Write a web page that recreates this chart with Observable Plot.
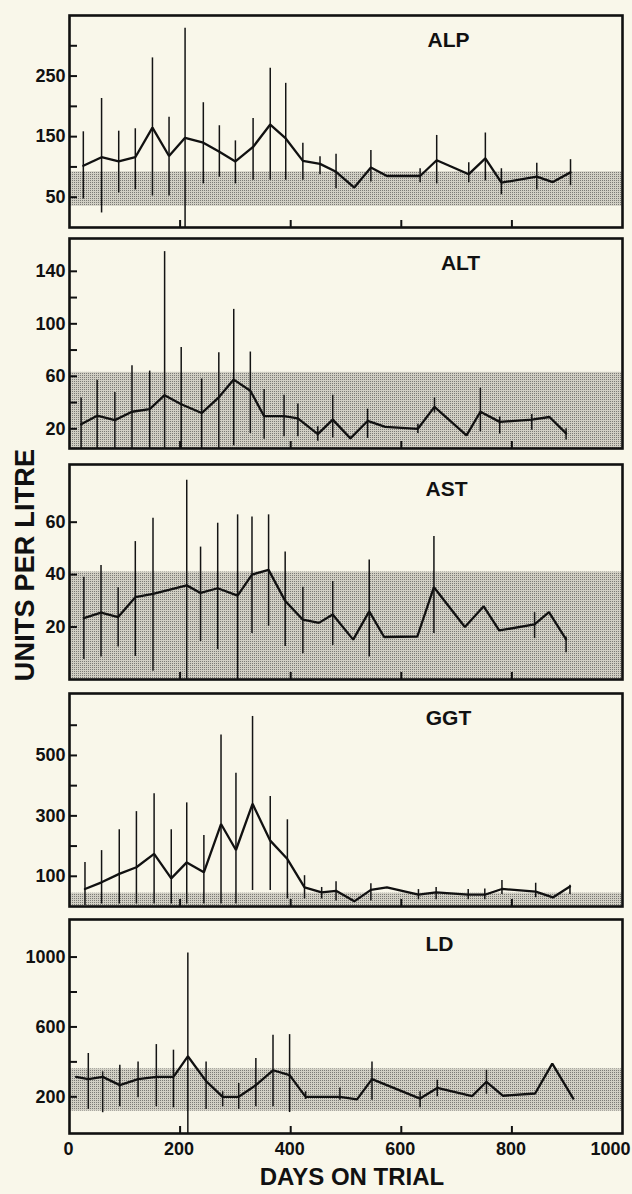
<!DOCTYPE html>
<html>
<head>
<meta charset="utf-8">
<script src="https://cdn.jsdelivr.net/npm/d3@7"></script>
<script src="https://cdn.jsdelivr.net/npm/@observablehq/plot@0.6"></script>
<style>
  html, body { margin: 0; padding: 0; background: #f9f7ea; }
  #wrap { position: relative; width: 632px; height: 1194px; overflow: hidden;
          font-family: "Liberation Sans", Arial, Helvetica, sans-serif; color: #111; }
  #wrap svg { position: absolute; left: 0; }
  #ylab { position: absolute; left: 25px; top: 565px; transform: translate(-50%, -50%) rotate(-90deg);
          font-weight: bold; font-size: 27px; white-space: nowrap; letter-spacing: 0.2px; }
  #xlab { position: absolute; left: 352px; top: 1177px; transform: translate(-50%, -50%);
          font-weight: bold; font-size: 24px; white-space: nowrap; }
</style>
</head>
<body>
<div id="wrap">
  <div id="ylab">UNITS PER LITRE</div>
  <div id="xlab">DAYS ON TRIAL</div>
</div>
<script>
// ---------- data ----------
const xDomain = [0, 1000];
const xTicks = [200, 400, 600, 800];
const xLabels = [0, 200, 400, 600, 800];
const xLastLabel = [1000];

// ALP
const alpDays = [25,58,89,119,150,180,209,242,271,300,332,363,391,422,453,482,515,545,574,634,664,722,752,781,845,874,906];
const alpMean = [102,116,109,116,165,118,148,140,125,109,133,170,147,110,105,92,66,99,85,85,111,88,114,74,84,75,91];
const alpHi   = [158,213,159,163,280,182,329,206,168,143,180,263,238,139,117,121,null,127,null,97,152,107,156,97,106,null,112];
const alpLo   = [47,24,57,62,52,52,0,72,83,72,78,78,78,78,87,64,null,75,null,74,72,74,77,54,62,null,69];
const alpBand = [35, 92];
const alpTicks = [50,100,150,200,250,300];
const alpLabels = [50,150,250];
const alpDomain = [0, 350];

// ALT
const altDays = [21,50,82,113,145,172,202,239,270,297,327,352,388,413,449,476,508,539,571,630,660,718,743,778,836,868,898];
const altMean = [23.5,30,26.6,33,35,45.6,38.7,32,44,57.5,49,29.6,29.6,28,16,27,12.7,26,21.5,20,36.7,15,33,25.3,27,29,16.5];
const altHi   = [43.5,57,47.6,68,64,155,82,58,78,111,78.5,50,45.6,39,21.5,45.6,null,35,null,23.5,43.5,null,51,29,31,null,20];
const altLo   = [5,5,5,5,5,5,5,5,5,7,16.5,12,14,14,10.6,13,null,12.7,null,16.5,32,null,17.7,16,19,null,11.4];
const altBand = [5, 63];
const altTicks = [20,40,60,80,100,120,140];
const altLabels = [20,60,100,140];
const altDomain = [5, 165];

// AST
const astDays = [26,57,88,119,151,212,237,268,304,330,360,390,422,451,476,513,542,569,629,659,715,749,777,841,867,898];
const astMean = [23.4,25.5,23.8,31.4,32.7,35.9,33,34.8,32,40,41.8,30,22.8,21.6,24.8,15.2,26,16.2,16.4,35.2,20,27.9,18.7,21,25.7,15.3];
const astHi   = [39,43.5,35,52.6,61.5,76,50.5,59.6,62.8,62,62.8,48.6,35.2,null,37.4,null,45.6,null,null,54.5,null,null,null,25.5,null,16.2];
const astLo   = [7.6,8.6,12.4,8.8,3.1,0,14.5,11.4,0,17.5,20.3,12.6,9.8,null,13,null,8.6,null,null,17.5,null,null,null,15.6,null,10.2];
const astBand = [0, 41];
const astTicks = [20,40,60];
const astLabels = [20,40,60];
const astDomain = [0, 82];

// GGT
const ggtDays = [28,58,90,121,153,184,212,243,274,301,331,363,394,425,456,482,515,545,574,631,663,721,751,782,843,874,905];
const ggtMean = [58,80,108,130,174,93,146,113,273,187,340,218,157,63,47,52,17,55,63,39,47,39,39,58,49,30,66];
const ggtHi   = [146,185,254,314,373,254,343,235,568,441,629,364,287,102,63,82,null,75,null,56,63,56,58,86,77,null,70];
const ggtLo   = [3,8,8,8,8,8,8,8,8,8,53,53,25,25,25,18,null,18,null,22,22,22,22,40,29,null,40];
const ggtBand = [0, 44];
const ggtTicks = [100,200,300,400,500,600];
const ggtLabels = [100,300,500];
const ggtDomain = [0, 705];

// LD
const ldDays = [12,34,60,91,124,157,188,214,247,277,306,337,368,398,427,489,520,547,634,665,728,754,784,842,873,911];
const ldMean = [314,301,314,267,301,314,314,432,290,200,200,267,352,324,200,200,185,301,190,251,204,286,206,219,390,190];
const ldHi   = [null,448,343,381,400,499,467,1023,400,229,276,419,552,556,229,251,null,400,229,295,null,352,null,null,null,null];
const ldLo   = [null,128,109,143,194,143,137,-10,128,143,128,143,143,110,185,181,null,181,137,200,null,215,null,null,null,null];
const ldBand = [118, 360];
const ldTicks = [200,400,600,800,1000];
const ldLabels = [200,600,1000];
const ldDomain = [-10, 1215];

// ---------- layout ----------
const panels = [
  {name: "ALP", days: alpDays, mean: alpMean, lo: alpLo, hi: alpHi, band: alpBand, ticks: alpTicks, labels: alpLabels, domain: alpDomain, top: 15,  bottom: 227,  tx: 379},
  {name: "ALT", days: altDays, mean: altMean, lo: altLo, hi: altHi, band: altBand, ticks: altTicks, labels: altLabels, domain: altDomain, top: 238, bottom: 448,  tx: 391},
  {name: "AST", days: astDays, mean: astMean, lo: astLo, hi: astHi, band: astBand, ticks: astTicks, labels: astLabels, domain: astDomain, top: 464, bottom: 679,  tx: 377},
  {name: "GGT", days: ggtDays, mean: ggtMean, lo: ggtLo, hi: ggtHi, band: ggtBand, ticks: ggtTicks, labels: ggtLabels, domain: ggtDomain, top: 693, bottom: 906,  tx: 379},
  {name: "LD",  days: ldDays,  mean: ldMean,  lo: ldLo,  hi: ldHi,  band: ldBand,  ticks: ldTicks,  labels: ldLabels,  domain: ldDomain,  top: 919, bottom: 1133, tx: 370}
];

const wrap = document.getElementById("wrap");
const fmt = d => String(d);
const FONT = "'Liberation Sans', Arial, Helvetica, sans-serif";
const NS = "http://www.w3.org/2000/svg";

panels.forEach((p, i) => {
  const last = i === panels.length - 1;
  const data = p.days.map((d, k) => ({day: d, mean: p.mean[k], lo: p.lo[k], hi: p.hi[k]}));
  const bars = data.filter(d => d.lo != null && d.hi != null);
  const mt = 3, mb = last ? 44 : 3;
  const H = p.bottom - p.top;
  const pid = "dots" + i;
  const marks = [
    Plot.rect([p.band], {x1: () => xDomain[0], x2: () => xDomain[1], y1: d => d[0], y2: d => d[1], fill: `url(#${pid})`}),
    Plot.ruleX(bars, {x: "day", y1: "lo", y2: "hi", stroke: "#141414", strokeWidth: 1.5}),
    Plot.line(data, {x: "day", y: "mean", stroke: "#111", strokeWidth: 2.3, strokeLinejoin: "miter"}),
    Plot.frame({stroke: "#111", strokeWidth: 2.6}),
    Plot.axisY(p.ticks, {tickSize: 8, dx: 8, tickFormat: () => "", strokeWidth: 2, label: null}),
    Plot.text(p.labels, {y: d => d, text: fmt, frameAnchor: "left", textAnchor: "end", dx: -4, fontSize: 18, fontWeight: "bold", fill: "#111"}),
    Plot.axisX(xTicks, {anchor: "bottom", tickSize: 7, dy: -7, tickFormat: () => "", strokeWidth: 2, label: null}),
    Plot.text([p.name], {frameAnchor: "top-left", dx: p.tx, dy: 25, lineAnchor: "middle", textAnchor: "middle", fontSize: 21, fontWeight: "bold", fill: "#111"})
  ];
  if (last) {
    marks.push(Plot.text(xLabels, {x: d => d, text: fmt, frameAnchor: "bottom", lineAnchor: "middle", dx: -1, dy: 16, fontSize: 18, fontWeight: "bold", fill: "#111"}));
    marks.push(Plot.text(xLastLabel, {x: d => d, text: fmt, frameAnchor: "bottom", lineAnchor: "middle", dx: -12, dy: 16, fontSize: 18, fontWeight: "bold", fill: "#111"}));
  }
  const svg = Plot.plot({
    width: 632,
    height: H + mt + mb,
    marginLeft: 69, marginRight: 10, marginTop: mt, marginBottom: mb,
    x: {domain: xDomain, label: null},
    y: {domain: p.domain, label: null},
    style: {background: "transparent", fontFamily: FONT, fontSize: "18px", fontWeight: "bold", color: "#111", overflow: "visible"},
    marks
  });
  // fine halftone dot screen for the reference-range band
  const defs = document.createElementNS(NS, "defs");
  const pat = document.createElementNS(NS, "pattern");
  pat.setAttribute("id", pid);
  pat.setAttribute("width", "2"); pat.setAttribute("height", "2");
  pat.setAttribute("patternUnits", "userSpaceOnUse");
  const mk = (x, y, w, h, f) => { const r = document.createElementNS(NS, "rect");
    r.setAttribute("x", x); r.setAttribute("y", y); r.setAttribute("width", w); r.setAttribute("height", h);
    r.setAttribute("fill", f); r.setAttribute("shape-rendering", "crispEdges"); pat.appendChild(r); };
  mk(0, 0, 2, 2, "#d1cfc4");
  mk(0, 0, 1, 1, "#7c7b76");
  defs.appendChild(pat);
  svg.insertBefore(defs, svg.firstChild);
  svg.style.top = (p.top - mt) + "px";
  wrap.appendChild(svg);
});
</script>
</body>
</html>
